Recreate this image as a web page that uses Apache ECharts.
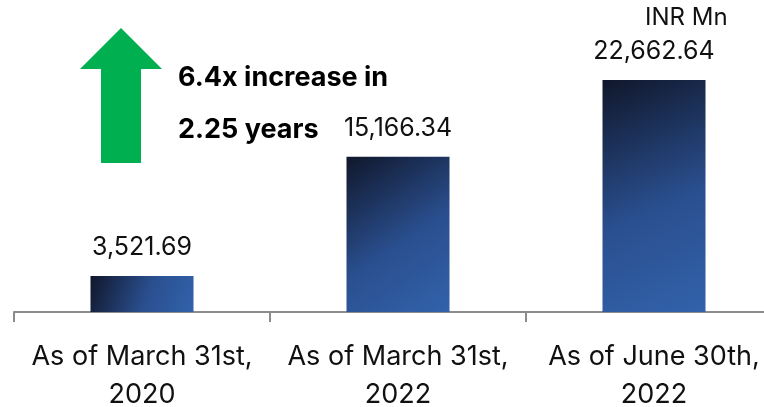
<!DOCTYPE html>
<html><head><meta charset="utf-8">
<script src="https://cdn.jsdelivr.net/npm/echarts@6/dist/echarts.min.js"></script>
<style>html,body{margin:0;padding:0;background:#fff}#c{width:764px;height:407px}</style>
</head><body><div id="c"></div>
<script>
const categories = ['As of March 31st,\n2020', 'As of March 31st,\n2022', 'As of June 30th,\n2022'];
const values = [3521.69, 15166.34, 22662.64];
const valueLabels = ['3,521.69', '15,166.34', '22,662.64'];
const unitLabel = 'INR Mn';
const noteLines = ['6.4x increase in', '2.25 years'];

const FONT = 'Inter, "Noto Sans", sans-serif';
const chart = echarts.init(document.getElementById('c'), null, {renderer: 'canvas'});
chart.setOption({
  animation: false,
  grid: {left: 14, top: 5, width: 768, height: 307, containLabel: false, outerBoundsMode: 'none'},
  xAxis: {
    type: 'category', data: categories,
    axisLine: {lineStyle: {color: '#8c8c8c', width: 2}},
    axisTick: {show: true, interval: 0, alignWithLabel: false, length: 10, lineStyle: {color: '#8c8c8c', width: 2}},
    axisLabel: {interval: 0, hideOverlap: false, color: '#111', fontSize: 27, fontFamily: FONT, lineHeight: 38, margin: 26}
  },
  yAxis: {type: 'value', min: 0, max: 30000, show: false, splitLine: {show: false}},
  series: [{
    type: 'bar', data: values, barWidth: 103,
    itemStyle: {color: new echarts.graphic.LinearGradient(0, 0, 1, 1, [
      {offset: 0, color: '#10172b'}, {offset: 0.55, color: '#2a4f8f'}, {offset: 1, color: '#3262ab'}])},
    label: {show: true, position: 'top', distance: 16, color: '#111', fontSize: 25, fontFamily: FONT,
      formatter: p => valueLabels[p.dataIndex]}
  }],
  graphic: [
    {type: 'polygon', shape: {points: [[121, 28], [162, 69], [141, 69], [141, 163], [101, 163], [101, 69], [80, 69]]},
     style: {fill: '#00b050'}},
    {type: 'text', left: 178, top: 64, style: {text: noteLines[0], font: 'bold 27px ' + FONT, fill: '#000'}},
    {type: 'text', left: 178, top: 116, style: {text: noteLines[1], font: 'bold 27px ' + FONT, fill: '#000'}},
    {type: 'text', left: 645, top: 6, style: {text: unitLabel, font: '24px ' + FONT, fill: '#111'}}
  ]
});
</script></body></html>
